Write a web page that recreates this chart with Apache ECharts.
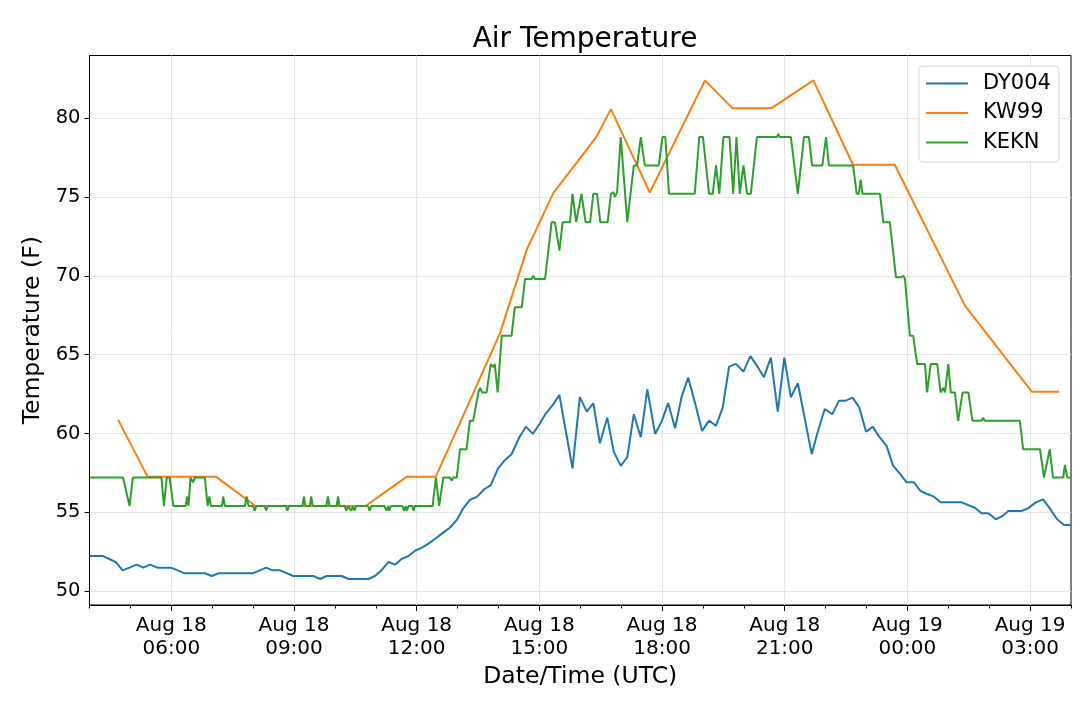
<!DOCTYPE html>
<html lang="en">
<head>
  <meta charset="UTF-8">
  <title>Air Temperature</title>
  <script src="https://cdn.jsdelivr.net/npm/echarts@6/dist/echarts.min.js"></script>
  <style>
    html, body {margin: 0; padding: 0; background: #fff;}
    #chart {width: 1080px; height: 705px;}
  </style>
</head>
<body>
  <div id="chart"></div>
  <script>
    // hours since Aug 18 00:00 UTC
    var dyHours = [4.0, 4.32, 4.65, 4.81, 4.99, 5.15, 5.32, 5.48, 5.66, 5.99, 6.33, 6.82, 6.99, 7.15, 7.99, 8.32, 8.48, 8.66, 8.98, 9.47,
      9.64, 9.80, 10.17, 10.33, 10.82, 10.98, 11.14, 11.31, 11.47, 11.63, 11.79, 11.96, 12.12, 12.28, 12.47, 12.65, 12.81, 12.98, 13.14, 13.30,
      13.48, 13.65, 13.81, 13.99, 14.16, 14.32, 14.51, 14.67, 14.84, 15.00, 15.16, 15.33, 15.49, 15.65, 15.81, 15.99, 16.16, 16.32, 16.48, 16.66,
      16.82, 16.99, 17.15, 17.31, 17.48, 17.64, 17.83, 17.99, 18.15, 18.32, 18.48, 18.64, 18.82, 18.98, 19.15, 19.32, 19.48, 19.64, 19.81, 19.99,
      20.16, 20.32, 20.49, 20.66, 20.83, 20.99, 21.15, 21.32, 21.66, 21.82, 21.98, 22.16, 22.33, 22.49, 22.66, 22.82, 22.99, 23.15, 23.31, 23.49,
      23.65, 23.82, 23.98, 24.16, 24.32, 24.48, 24.65, 24.81, 25.32, 25.65, 25.81, 25.98, 26.16, 26.30, 26.47, 26.79, 26.95, 27.14, 27.32, 27.48,
      27.66, 27.83, 28.0];
    var dyTemps = [52.23, 52.23, 51.83, 51.32, 51.51, 51.68, 51.49, 51.68, 51.49, 51.49, 51.13, 51.13, 50.96, 51.13, 51.13, 51.49, 51.32, 51.32, 50.96, 50.96,
      50.77, 50.96, 50.96, 50.77, 50.77, 50.96, 51.32, 51.85, 51.68, 52.04, 52.21, 52.56, 52.74, 53.0, 53.35, 53.71, 54.02, 54.51, 55.25, 55.78,
      55.99, 56.46, 56.71, 57.79, 58.32, 58.68, 59.76, 60.43, 59.97, 60.58, 61.28, 61.81, 62.44, 60.11, 57.79, 62.30, 61.38, 61.92, 59.38, 61.0,
      58.85, 57.94, 58.49, 61.22, 59.76, 62.80, 59.97, 60.75, 61.92, 60.33, 62.34, 63.54, 61.81, 60.16, 60.81, 60.49, 61.60, 64.24, 64.41, 63.92,
      64.9, 64.3, 63.57, 64.81, 61.38, 64.81, 62.30, 63.19, 58.70, 60.22, 61.55, 61.22, 62.08, 62.08, 62.27, 61.66, 60.11, 60.43, 59.80, 59.21,
      57.96, 57.43, 56.90, 56.90, 56.35, 56.16, 55.99, 55.63, 55.63, 55.29, 54.94, 54.94, 54.56, 54.72, 55.08, 55.08, 55.25, 55.63, 55.82, 55.25,
      54.56, 54.19, 54.19];

    var kwHours = [4.70, 5.42, 7.09, 8.06, 10.75, 11.76, 12.47, 14.04, 14.69, 15.34, 16.40, 16.75, 17.70, 19.05, 19.72, 20.68, 21.70, 22.67, 23.69, 25.41, 27.04, 27.71];
    var kwTemps = [60.86, 57.26, 57.26, 55.4, 55.4, 57.26, 57.26, 66.36, 71.64, 75.24, 78.83, 80.57, 75.28, 82.39, 80.63, 80.63, 82.39, 77.04, 77.04, 68.09, 62.65, 62.65];

    var kekHours = [4.0, 4.82, 4.98, 5.06, 5.76, 5.82, 5.89, 5.96, 6.05, 6.35, 6.39, 6.42, 6.47, 6.53, 6.58, 6.82, 6.89, 6.93, 6.97, 7.24,
      7.27, 7.31, 7.80, 7.84, 7.89, 8.00, 8.04, 8.08, 8.28, 8.32, 8.36, 8.80, 8.84, 8.88, 9.21, 9.24, 9.28, 9.39, 9.42, 9.46,
      9.79, 9.83, 9.87, 10.04, 10.08, 10.11, 10.24, 10.28, 10.32, 10.40, 10.44, 10.48, 10.52, 10.81, 10.85, 10.89, 11.21, 11.26, 11.30, 11.33,
      11.37, 11.65, 11.69, 11.73, 11.76, 11.80, 11.89, 11.92, 11.95, 12.39, 12.47, 12.55, 12.65, 12.81, 12.86, 12.89, 12.98, 13.06, 13.22, 13.30,
      13.38, 13.51, 13.55, 13.60, 13.71, 13.81, 13.87, 13.91, 13.98, 14.08, 14.32, 14.40, 14.57, 14.65, 14.81, 14.85, 14.89, 15.14, 15.30, 15.38,
      15.49, 15.57, 15.75, 15.81, 15.90, 16.03, 16.13, 16.24, 16.32, 16.41, 16.49, 16.67, 16.75, 16.81, 16.85, 16.90, 16.99, 17.15, 17.31, 17.39,
      17.48, 17.58, 17.92, 18.01, 18.08, 18.17, 18.80, 18.91, 19.00, 19.15, 19.24, 19.32, 19.40, 19.50, 19.65, 19.74, 19.82, 19.90, 19.99, 20.08,
      20.17, 20.32, 20.81, 20.84, 20.88, 21.15, 21.32, 21.47, 21.59, 21.67, 21.92, 22.01, 22.08, 22.67, 22.76, 22.81, 22.86, 22.90, 23.33, 23.41,
      23.57, 23.72, 23.84, 23.90, 23.94, 24.06, 24.14, 24.24, 24.43, 24.48, 24.57, 24.73, 24.81, 24.88, 24.92, 25.00, 25.06, 25.16, 25.24, 25.35,
      25.49, 25.59, 25.81, 25.85, 25.89, 26.75, 26.83, 27.24, 27.34, 27.48, 27.56, 27.81, 27.85, 27.91, 28.0];
    var kekTemps = [57.2, 57.2, 55.4, 57.2, 57.2, 55.4, 57.2, 57.2, 55.4, 55.4, 56.0, 55.4, 57.2, 56.9, 57.2, 57.2, 55.4, 56.0, 55.4, 55.4,
      56.0, 55.4, 55.4, 56.0, 55.4, 55.4, 55.1, 55.4, 55.4, 55.1, 55.4, 55.4, 55.1, 55.4, 55.4, 56.0, 55.4, 55.4, 56.0, 55.4,
      55.4, 56.0, 55.4, 55.4, 56.0, 55.4, 55.4, 55.1, 55.4, 55.1, 55.4, 55.1, 55.4, 55.4, 55.1, 55.4, 55.4, 55.1, 55.4, 55.1,
      55.4, 55.4, 55.1, 55.4, 55.1, 55.4, 55.4, 55.1, 55.4, 55.4, 57.2, 55.4, 57.2, 57.2, 57.0, 57.2, 57.2, 59.0, 59.0, 60.8,
      60.8, 62.6, 62.9, 62.6, 62.6, 64.4, 64.2, 64.4, 62.6, 66.2, 66.2, 68.0, 68.0, 69.8, 69.8, 70.0, 69.8, 69.8, 73.4, 73.4,
      71.6, 73.4, 73.4, 75.2, 73.4, 75.2, 73.4, 73.4, 75.2, 75.2, 73.4, 73.4, 75.2, 75.3, 75.0, 75.3, 78.8, 73.4, 77.0, 77.0,
      78.8, 77.0, 77.0, 78.8, 78.8, 75.2, 75.2, 78.8, 78.8, 75.2, 75.2, 77.0, 75.2, 78.8, 78.8, 75.2, 78.8, 75.2, 77.0, 75.2,
      75.2, 78.8, 78.8, 79.0, 78.8, 78.8, 75.2, 78.8, 78.8, 77.0, 77.0, 78.8, 77.0, 77.0, 75.2, 75.2, 76.1, 75.2, 75.2, 73.4,
      73.4, 69.9, 69.9, 70.0, 69.8, 66.2, 66.2, 64.4, 64.4, 62.6, 64.4, 64.4, 62.6, 62.9, 62.6, 64.4, 62.6, 62.6, 60.8, 62.6,
      62.6, 60.8, 60.8, 61.0, 60.8, 60.8, 59.0, 59.0, 57.2, 59.0, 57.2, 57.2, 58.0, 57.2, 57.2];

    var xMajor = [6, 9, 12, 15, 18, 21, 24, 27];
    var xMinor = [4, 5, 7, 8, 10, 11, 13, 14, 16, 17, 19, 20, 22, 23, 25, 26, 28];
    var xLabels = ['Aug 18\n06:00', 'Aug 18\n09:00', 'Aug 18\n12:00', 'Aug 18\n15:00', 'Aug 18\n18:00', 'Aug 18\n21:00', 'Aug 19\n00:00', 'Aug 19\n03:00'];
    var yTicks = [50, 55, 60, 65, 70, 75, 80];

    function zip(xs, ys){
      var out = [];
      for(var i = 0; i < xs.length; i++){
        out.push([xs[i], ys[i]]);
      }
      return out;
    }

    var font = 'DejaVu Sans';
    var myChart = echarts.init(document.getElementById('chart'));
    var option = {
      animation: false,
      backgroundColor: '#fff',
      textStyle: {fontFamily: font, color: '#000'},
      title: {
        text: 'Air Temperature',
        left: 580,
        textAlign: 'center',
        top: 21,
        textStyle: {fontFamily: font, fontSize: 28, fontWeight: 'normal', color: '#000'}
      },
      grid: {left: 89.5, right: 9, top: 55.5, bottom: 100, show: true, borderColor: '#000', borderWidth: 1, containLabel: false},
      legend: {
        orient: 'vertical',
        left: 919,
        top: 66,
        padding: [7, 8, 9, 7],
        itemGap: 8.5,
        itemWidth: 42,
        itemHeight: 2,
        icon: 'rect',
        backgroundColor: '#fff',
        borderColor: '#d6d6d6',
        borderWidth: 1,
        borderRadius: 4,
        textStyle: {fontFamily: font, fontSize: 21, color: '#000', lineHeight: 21, padding: [0, 0, 0, 10]},
        data: ['DY004', 'KW99', 'KEKN']
      },
      xAxis: [{
        type: 'value',
        min: 4,
        max: 28,
        name: 'Date/Time (UTC)',
        nameLocation: 'middle',
        nameGap: 56,
        nameTextStyle: {fontFamily: font, fontSize: 23.5, color: '#000'},
        axisLine: {show: true, lineStyle: {color: '#000', width: 1}},
        axisTick: {show: true, customValues: xMajor, length: 6, lineStyle: {color: '#000'}},
        axisLabel: {
          customValues: xMajor,
          margin: 9,
          fontFamily: font,
          fontSize: 20,
          lineHeight: 23,
          color: '#000',
          formatter: function(v){
            var i = xMajor.indexOf(Math.round(v));
            return i >= 0 ? xLabels[i] : '';
          }
        },
        splitLine: {show: true, lineStyle: {color: '#e6e6e6', width: 1}}
      }, {
        type: 'value',
        min: 4,
        max: 28,
        position: 'bottom',
        offset: 0,
        axisLine: {show: false},
        axisTick: {show: true, customValues: xMinor, length: 3.5, lineStyle: {color: '#000'}},
        axisLabel: {show: false},
        splitLine: {show: false}
      }],
      yAxis: {
        type: 'value',
        min: 49.12,
        max: 83.97,
        name: 'Temperature (F)',
        nameLocation: 'middle',
        nameGap: 44,
        nameTextStyle: {fontFamily: font, fontSize: 23.5, color: '#000'},
        axisLine: {show: true, lineStyle: {color: '#000', width: 1}},
        axisTick: {show: true, customValues: yTicks, length: 5, lineStyle: {color: '#000'}},
        axisLabel: {customValues: yTicks, margin: 9, fontFamily: font, fontSize: 19.5, color: '#000'},
        splitLine: {show: true, lineStyle: {color: '#e6e6e6', width: 1}}
      },
      series: [{
        name: 'DY004',
        type: 'line',
        symbol: 'none',
        color: '#1f77b4',
        lineStyle: {width: 2},
        data: zip(dyHours, dyTemps)
      }, {
        name: 'KW99',
        type: 'line',
        symbol: 'none',
        color: '#ff7f0e',
        lineStyle: {width: 2},
        data: zip(kwHours, kwTemps)
      }, {
        name: 'KEKN',
        type: 'line',
        symbol: 'none',
        color: '#2ca02c',
        lineStyle: {width: 2},
        data: zip(kekHours, kekTemps)
      }]
    };
    myChart.setOption(option);
  </script>
</body>
</html>
